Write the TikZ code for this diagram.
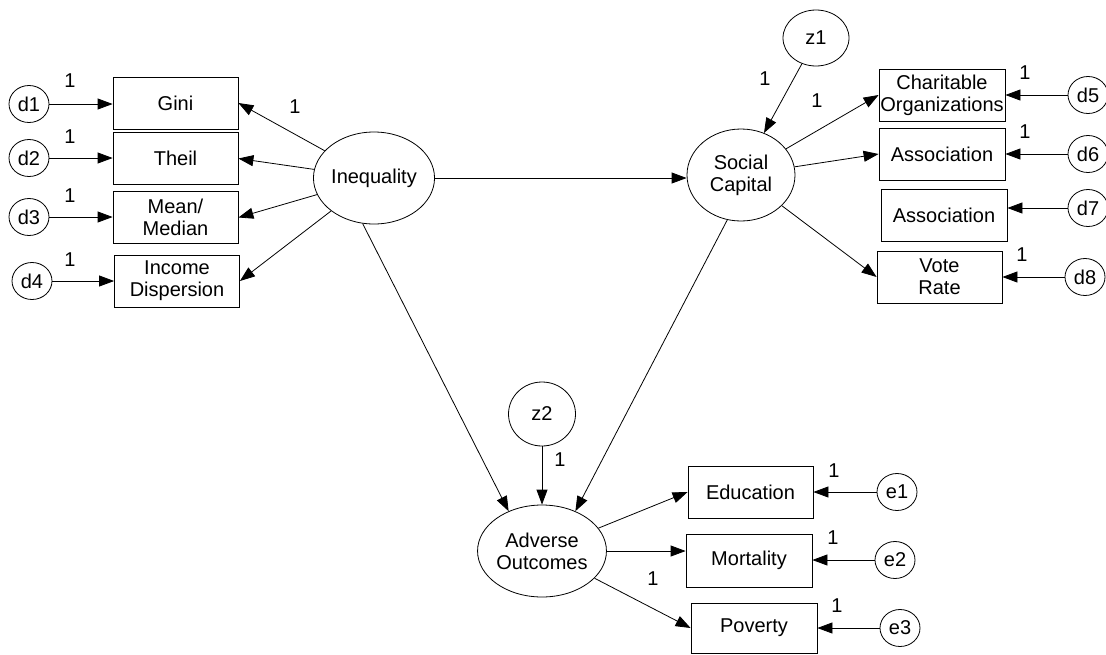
\documentclass[tikz,border=0pt]{standalone}
\usepackage{fontspec}
\setmainfont{Liberation Sans}
\usetikzlibrary{arrows.meta,shapes.geometric}
\begin{document}
\begin{tikzpicture}[x=1pt,y=-1pt,
  every node/.style={font=\fontsize{20}{22}\selectfont, inner sep=0pt, align=center},
  obs/.style={draw, line width=0.8pt, rectangle, minimum width=125pt, minimum height=52pt},
  latent/.style={draw, line width=0.8pt, ellipse, minimum width=108pt, minimum height=92pt},
  resid/.style={draw, line width=0.8pt, ellipse, minimum width=40pt, minimum height=37pt},
  dist/.style={draw, line width=0.8pt, ellipse},
  arr/.style={line width=0.8pt, -{Triangle[length=15pt,width=11pt]}},
  wt/.style={font=\fontsize{20}{22}\selectfont}]
\useasboundingbox (0,0) rectangle (1106,654);

% latent variables
\node[latent] (ineq) at (374,178) {Inequality};
\node[latent] (soc) at (741,175) {Social\\Capital};
\node[latent] (adv) at (542,551) {Adverse\\Outcomes};
\node[dist, minimum width=66pt, minimum height=56pt] (z1) at (816,38) {z1};
\node[dist, minimum width=67pt, minimum height=64pt] (z2) at (542,414) {z2};

% inequality indicators
\node[obs] (gini) at (175.5,103) {Gini};
\node[obs] (theil) at (175.5,158.5) {Theil};
\node[obs] (mean) at (175.5,217.5) {Mean/\\Median};
\node[obs] (income) at (177,281) {Income\\Dispersion};

% social capital indicators
\node[obs, minimum width=126pt] (charit) at (942,95) {Charitable\\Organizations};
\node[obs, minimum width=126pt] (assoca) at (942,154) {Association};
\node[obs, minimum width=126pt] (assocb) at (944,215) {Association};
\node[obs] (vote) at (939.5,277) {Vote\\Rate};

% outcome indicators
\node[obs] (educ) at (750.5,492) {Education};
\node[obs, minimum width=126pt, minimum height=53pt] (mort) at (749,560.5) {Mortality};
\node[obs, minimum width=126pt, minimum height=50pt] (pov) at (754,628) {Poverty};

% residuals
\node[resid] (d1) at (29,104) {d1};
\node[resid] (d2) at (29,158) {d2};
\node[resid] (d3) at (29,217) {d3};
\node[resid] (d4) at (32,281) {d4};
\node[resid] (d5) at (1088,95) {d5};
\node[resid] (d6) at (1088,154) {d6};
\node[resid] (d7) at (1088,208) {d7};
\node[resid] (d8) at (1085,277) {d8};
\node[resid] (e1) at (897,492) {e1};
\node[resid] (e2) at (895,560) {e2};
\node[resid] (e3) at (900,628) {e3};

% measurement paths
\draw[arr] (ineq) -- (gini.east);
\draw[arr] (ineq) -- (theil.east);
\draw[arr] (ineq) -- (mean.east);
\draw[arr] (ineq) -- (income.east);
\draw[arr] (soc) -- (charit.west);
\draw[arr] (soc) -- (assoca.west);
\draw[arr] (soc) -- (vote.west);
\draw[arr] (adv) -- (educ.west);
\draw[arr] (adv.east) -- (adv.east -| mort.west);
\draw[arr] (adv) -- (pov.west);

% structural paths
\draw[arr] (ineq.east) -- (ineq.east -| soc.west);
\draw[arr] (ineq.256) -- (adv.130);
\draw[arr] (soc.253) -- (adv.50);
\draw[arr] (z1) -- (soc);
\draw[arr] (z2) -- (adv);

% residual paths
\draw[arr] (d1) -- (d1 -| gini.west);
\draw[arr] (d2) -- (d2 -| theil.west);
\draw[arr] (d3) -- (d3 -| mean.west);
\draw[arr] (d4) -- (d4 -| income.west);
\draw[arr] (d5) -- (d5 -| charit.east);
\draw[arr] (d6) -- (d6 -| assoca.east);
\draw[arr] (d7) -- (d7 -| assocb.east);
\draw[arr] (d8) -- (d8 -| vote.east);
\draw[arr] (e1) -- (e1 -| educ.east);
\draw[arr] (e2) -- (e2 -| mort.east);
\draw[arr] (e3) -- (e3 -| pov.east);

% fixed weights
\node[wt] (w1) at (70,81) {1};
\node[wt] (w2) at (70,137) {1};
\node[wt] (w3) at (70,196) {1};
\node[wt] (w4) at (70,260) {1};
\node[wt] (w5) at (295,107) {1};
\node[wt] (w6) at (765,79) {1};
\node[wt] (w7) at (817,101) {1};
\node[wt] (w8) at (1025,73) {1};
\node[wt] (w9) at (1025,132) {1};
\node[wt] (w10) at (1022,255) {1};
\node[wt] (w11) at (560,460) {1};
\node[wt] (w12) at (834,471) {1};
\node[wt] (w13) at (833,538) {1};
\node[wt] (w14) at (837,606) {1};
\node[wt] (w15) at (653,579) {1};
\end{tikzpicture}
\end{document}
